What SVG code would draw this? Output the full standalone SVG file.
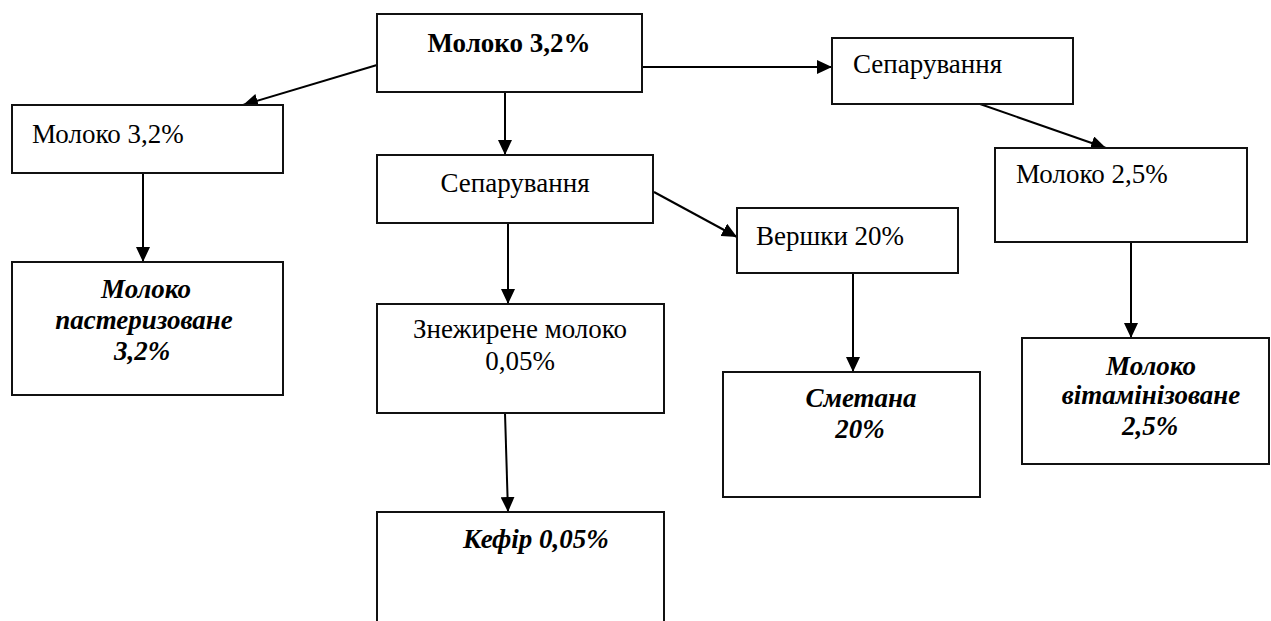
<svg xmlns="http://www.w3.org/2000/svg" width="1271" height="621" viewBox="0 0 1271 621">
<style>
  .box { fill: #ffffff; stroke: #111111; stroke-width: 2; }
  .t { font-family: 'Liberation Serif', Tinos, 'Times New Roman', 'DejaVu Serif', serif; font-size: 27px; fill: #000000; }
  .b { font-weight: bold; }
  .bi { font-weight: bold; font-style: italic; }
  .c { text-anchor: middle; }
  .edge { stroke: #000000; stroke-width: 2; fill: none; marker-end: url(#arrow); }
</style>
<defs>
  <marker id="arrow" markerUnits="userSpaceOnUse" markerWidth="15" markerHeight="14" refX="15" refY="7" orient="auto">
    <path d="M0,0 L15,7 L0,14 Z" fill="#000000"/>
  </marker>
</defs>
<rect width="1271" height="621" fill="#ffffff"/>

<g id="connectors">
  <line class="edge" x1="377" y1="65" x2="243" y2="105"/>
  <line class="edge" x1="505" y1="92" x2="505" y2="155"/>
  <line class="edge" x1="642" y1="67" x2="832" y2="67"/>
  <line class="edge" x1="980" y1="104" x2="1106" y2="148"/>
  <line class="edge" x1="654" y1="192" x2="737" y2="237"/>
  <line class="edge" x1="508" y1="223" x2="508" y2="304"/>
  <line class="edge" x1="143" y1="173" x2="143" y2="262"/>
  <line class="edge" x1="853" y1="273" x2="853" y2="372"/>
  <line class="edge" x1="1131" y1="242" x2="1131" y2="338"/>
  <line class="edge" x1="505" y1="413" x2="508" y2="512"/>
</g>

<g id="node-milk-top">
  <rect class="box" x="377" y="14" width="265" height="78"/>
  <text class="t b c" x="509" y="52">Молоко 3,2%</text>
</g>

<g id="node-milk-left">
  <rect class="box" x="12" y="105" width="271" height="68"/>
  <text class="t" x="32" y="143">Молоко 3,2%</text>
</g>

<g id="node-pasteurized">
  <rect class="box" x="12" y="262" width="271" height="133"/>
  <text class="t bi c" x="146" y="298">Молоко</text>
  <text class="t bi c" x="144" y="329">пастеризоване</text>
  <text class="t bi c" x="142" y="360">3,2%</text>
</g>

<g id="node-separation-mid">
  <rect class="box" x="377" y="155" width="276" height="68"/>
  <text class="t c" x="515" y="192">Сепарування</text>
</g>

<g id="node-skim">
  <rect class="box" x="377" y="304" width="287" height="109"/>
  <text class="t c" x="520" y="338">Знежирене молоко</text>
  <text class="t c" x="520" y="370">0,05%</text>
</g>

<g id="node-kefir">
  <rect class="box" x="377" y="512" width="287" height="120"/>
  <text class="t bi" x="463" y="548">Кефір 0,05%</text>
</g>

<g id="node-separation-right">
  <rect class="box" x="832" y="38" width="241" height="66"/>
  <text class="t" x="853" y="73">Сепарування</text>
</g>

<g id="node-milk-25">
  <rect class="box" x="995" y="148" width="252" height="94"/>
  <text class="t" x="1016" y="183">Молоко 2,5%</text>
</g>

<g id="node-cream">
  <rect class="box" x="737" y="208" width="221" height="65"/>
  <text class="t" x="756" y="245">Вершки 20%</text>
</g>

<g id="node-sour-cream">
  <rect class="box" x="723" y="372" width="257" height="125"/>
  <text class="t bi c" x="861" y="407">Сметана</text>
  <text class="t bi c" x="860" y="438">20%</text>
</g>

<g id="node-vitaminized">
  <rect class="box" x="1022" y="338" width="247" height="126"/>
  <text class="t bi c" x="1151" y="375">Молоко</text>
  <text class="t bi c" x="1151" y="404">вітамінізоване</text>
  <text class="t bi c" x="1150" y="435">2,5%</text>
</g>
</svg>
